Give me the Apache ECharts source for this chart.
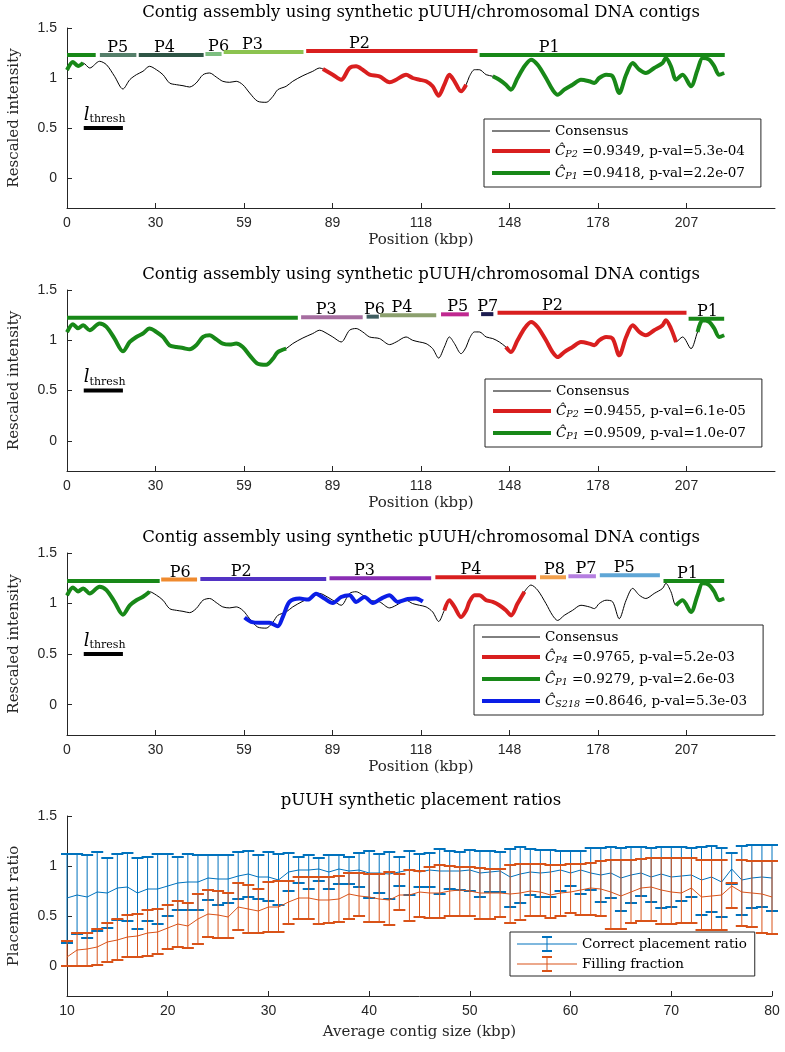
<!DOCTYPE html>
<html>
<head>
<meta charset="utf-8">
<script src="https://cdn.jsdelivr.net/npm/echarts@6.0.0/dist/echarts.min.js"></script>
<style>
  html, body { margin: 0; padding: 0; background: #fff; }
  #chart { width: 785px; height: 1052px; }
</style>
</head>
<body>
<div id="chart"></div>
<script>
// ---- data ----
// consensus profile [kbp, rescaled intensity], shared by the three assembly panels
const consensus = [
  [0, 1.08], [2.0, 1.16], [3.7, 1.12], [5.4, 1.15], [7.6, 1.10], [10.9, 1.167], [13.2, 1.133],
  [15.9, 1.017], [18.7, 0.89], [21, 0.983], [23.2, 1.033], [25.4, 1.067], [27.6, 1.117],
  [29.9, 1.083], [32.1, 1.033], [34.3, 0.95], [36.6, 0.933], [38.8, 0.923], [41, 0.91],
  [43.2, 0.95], [45.5, 1.033], [47.7, 1.05], [49.9, 1.01], [52.1, 0.967], [54.4, 0.957],
  [56.6, 0.967], [58.8, 0.933], [61.1, 0.85], [63.8, 0.767], [66.6, 0.757], [68.9, 0.817],
  [70.5, 0.883], [73.3, 0.917], [75.5, 0.967], [78.9, 1.023], [82.2, 1.067], [84.5, 1.1],
  [85.6, 1.09], [88.9, 1.033], [91.7, 0.983], [94.5, 1.1], [96.7, 1.117], [98.9, 1.083],
  [101.2, 1.033], [104.5, 1.017], [107.9, 0.957], [110.1, 0.983], [113.4, 1.033], [115.6, 1.0],
  [117.9, 0.983], [120.1, 0.967], [122.3, 0.917], [124.3, 0.823], [126.2, 0.933], [127.9, 1.033],
  [129.6, 0.967], [131.8, 0.867], [133.5, 0.933], [134.6, 1.017], [136.3, 1.083], [137.9, 1.083],
  [140.2, 1.033], [142.4, 1.017], [144.6, 0.983], [146.8, 0.933], [148.5, 0.883], [150.7, 1.0],
  [153, 1.117], [155.2, 1.183], [157.4, 1.133], [160.2, 1.0], [162.4, 0.883], [164.1, 0.833],
  [166.3, 0.883], [169.1, 0.933], [171.9, 0.983], [174.7, 0.967], [176.4, 0.95], [178, 1.0],
  [180.3, 1.033], [182.5, 1.017], [184.7, 0.85], [187, 1.033], [189.2, 1.15], [191.4, 1.083],
  [193.6, 1.05], [196.4, 1.1], [199.2, 1.15], [200.3, 1.2], [202, 1.117], [203.7, 0.983],
  [205.9, 1.033], [208.7, 0.917], [210.9, 1.083], [212.6, 1.2], [214.8, 1.183], [216.5, 1.117],
  [218.1, 1.033], [219.8, 1.05]
];

// kbp ranges where each fitted contig overlays the consensus
const p1RedRanges = [[85.6, 133.5]];
const p1GreenRanges = [[0, 5.4], [142.4, 219.8]];
const p2RedRanges = [[146.8, 203.7]];
const p2GreenRanges = [[0, 73.3], [210.9, 219.8]];
const p3RedRanges = [[126.2, 153]];
const p3GreenRanges = [[0, 27.6], [203.7, 219.8]];
// S218 fit in panel 3
const p3Blue = [
  [59.4, 0.862], [61.6, 0.819], [64.4, 0.809], [67.7, 0.809], [70.5, 0.776], [72.2, 0.869],
  [74.4, 1.016], [77.8, 1.049], [80.6, 1.039], [83.3, 1.098], [86.1, 1.049], [88.9, 1.006],
  [91.7, 1.065], [94.5, 1.082], [96.7, 1.016], [99.5, 1.065], [102.3, 1.006], [105.1, 1.049],
  [107.8, 1.082], [110.6, 1.016], [114.0, 1.045], [116.7, 1.05], [119.0, 1.02]
];

// contig placement bars: [start kbp, end kbp, height, label kbp]
const p1Segs = [[0, 9.6, 1.23, null], [11, 23.2, 1.23, 17], [24, 45.7, 1.23, 32.6], [46.3, 51.7, 1.24, 50.7],
  [52.4, 79.1, 1.26, 62], [80, 137.3, 1.27, 97.8], [138, 220, 1.23, 161.3]];
const p1SegLabels = ['', 'P5', 'P4', 'P6', 'P3', 'P2', 'P1'];
const p2Segs = [[0, 77.2, 1.225, null], [78.3, 98.9, 1.23, 86.7], [100.2, 104.3, 1.235, 102.8],
  [104.7, 123.5, 1.25, 112], [125.1, 134.4, 1.258, 130.7], [138.5, 142.6, 1.26, 140.7],
  [144.0, 207.2, 1.275, 162.4], [207.9, 219.8, 1.215, 214.2]];
const p2SegLabels = ['', 'P3', 'P6', 'P4', 'P5', 'P7', 'P2', 'P1'];
const p3Segs = [[0, 31, 1.223, null], [31.5, 43.5, 1.237, 37.9], [44.6, 86.7, 1.243, 58.3],
  [87.8, 121.8, 1.25, 99.5], [123.2, 156.9, 1.26, 135.1], [158.2, 166.9, 1.26, 163],
  [167.7, 176.9, 1.27, 173.6], [178.2, 198.3, 1.28, 186.4], [199.5, 219.8, 1.223, 207.5]];
const p3SegLabels = ['', 'P6', 'P2', 'P3', 'P4', 'P8', 'P7', 'P5', 'P1'];
const threshBar = [[5.6, 18.7, 0.5, 5.6]];

const xTickVals = [0, 29.6, 59.2, 88.8, 118.4, 148, 177.6, 207.2];
const xTickLabels = ['0', '30', '59', '89', '118', '148', '178', '207'];
const yTickVals = [0, 0.5, 1, 1.5];

// placement ratio panel
const contigSize = [10, 11, 12, 13, 14, 15, 16, 17, 18, 19, 20, 21, 22, 23, 24, 25, 26, 27, 28, 29, 30,
  31, 32, 33, 34, 35, 36, 37, 38, 39, 40, 41, 42, 43, 44, 45, 46, 47, 48, 49, 50, 51, 52, 53, 54, 55,
  56, 57, 58, 59, 60, 61, 62, 63, 64, 65, 66, 67, 68, 69, 70, 71, 72, 73, 74, 75, 76, 77, 78, 79, 80];
const cprMean = [0.68, 0.71, 0.69, 0.74, 0.73, 0.78, 0.79, 0.73, 0.77, 0.77, 0.80, 0.83, 0.84, 0.84, 0.88,
  0.87, 0.87, 0.90, 0.92, 0.89, 0.89, 0.86, 0.94, 0.96, 0.96, 0.97, 0.94, 0.97, 0.95, 0.96, 0.93, 0.93,
  0.92, 0.94, 0.96, 0.94, 0.96, 0.95, 0.95, 0.95, 0.96, 0.93, 0.94, 0.95, 0.89, 0.92, 0.94, 0.93, 0.94,
  0.96, 0.93, 0.96, 0.93, 0.91, 0.93, 0.88, 0.91, 0.93, 0.89, 0.92, 0.89, 0.90, 0.91, 0.86, 0.89, 0.84,
  0.97, 0.86, 0.88, 0.89, 0.88];
const cprHigh = [1.12, 1.12, 1.11, 1.14, 1.08, 1.12, 1.13, 1.08, 1.09, 1.12, 1.12, 1.09, 1.12, 1.11, 1.11,
  1.11, 1.11, 1.14, 1.15, 1.11, 1.14, 1.12, 1.13, 1.09, 1.11, 1.08, 1.11, 1.11, 1.09, 1.13, 1.15, 1.12,
  1.14, 1.09, 1.15, 1.12, 1.13, 1.17, 1.15, 1.14, 1.16, 1.15, 1.15, 1.14, 1.17, 1.19, 1.17, 1.16, 1.16,
  1.15, 1.15, 1.15, 1.18, 1.18, 1.19, 1.18, 1.19, 1.19, 1.18, 1.19, 1.19, 1.19, 1.18, 1.19, 1.20, 1.18,
  1.13, 1.20, 1.21, 1.21, 1.21];
const cprLow = [0.23, 0.32, 0.28, 0.35, 0.38, 0.46, 0.45, 0.37, 0.45, 0.42, 0.50, 0.56, 0.56, 0.56, 0.66,
  0.61, 0.63, 0.67, 0.69, 0.67, 0.65, 0.61, 0.75, 0.83, 0.77, 0.85, 0.77, 0.82, 0.82, 0.79, 0.68, 0.73,
  0.67, 0.80, 0.71, 0.79, 0.79, 0.72, 0.77, 0.76, 0.75, 0.69, 0.74, 0.74, 0.59, 0.63, 0.71, 0.69, 0.69,
  0.75, 0.80, 0.72, 0.76, 0.64, 0.68, 0.55, 0.63, 0.70, 0.64, 0.58, 0.59, 0.65, 0.69, 0.51, 0.54, 0.49,
  0.82, 0.51, 0.58, 0.59, 0.55];
const ffMean = [0.09, 0.16, 0.17, 0.19, 0.24, 0.26, 0.29, 0.30, 0.33, 0.34, 0.38, 0.42, 0.40, 0.47, 0.52,
  0.51, 0.49, 0.59, 0.57, 0.55, 0.59, 0.59, 0.64, 0.68, 0.68, 0.66, 0.66, 0.67, 0.72, 0.70, 0.69, 0.67,
  0.66, 0.71, 0.71, 0.74, 0.73, 0.73, 0.75, 0.76, 0.75, 0.73, 0.73, 0.73, 0.72, 0.73, 0.75, 0.74, 0.71,
  0.73, 0.74, 0.76, 0.78, 0.77, 0.74, 0.70, 0.74, 0.78, 0.79, 0.76, 0.74, 0.73, 0.78, 0.69, 0.70, 0.71,
  0.80, 0.74, 0.73, 0.72, 0.69];
const ffHigh = [0.25, 0.33, 0.33, 0.37, 0.43, 0.47, 0.51, 0.52, 0.56, 0.57, 0.61, 0.65, 0.63, 0.72, 0.76,
  0.75, 0.73, 0.83, 0.81, 0.77, 0.84, 0.85, 0.85, 0.89, 0.89, 0.89, 0.89, 0.90, 0.93, 0.93, 0.92, 0.92,
  0.94, 0.92, 0.96, 0.95, 0.99, 1.01, 1.00, 0.99, 0.99, 0.98, 0.97, 0.97, 1.01, 1.02, 1.02, 1.02, 1.01,
  1.01, 1.02, 1.02, 1.03, 1.05, 1.06, 1.06, 1.06, 1.07, 1.08, 1.08, 1.08, 1.08, 1.08, 1.06, 1.06, 1.06,
  0.83, 1.06, 1.05, 1.05, 1.05];
const ffLow = [0.00, 0.00, 0.00, 0.01, 0.04, 0.06, 0.09, 0.09, 0.10, 0.12, 0.17, 0.19, 0.18, 0.22, 0.29,
  0.28, 0.28, 0.36, 0.33, 0.33, 0.34, 0.34, 0.42, 0.47, 0.47, 0.42, 0.43, 0.44, 0.47, 0.50, 0.44, 0.44,
  0.41, 0.56, 0.45, 0.49, 0.48, 0.48, 0.50, 0.50, 0.50, 0.47, 0.47, 0.49, 0.43, 0.46, 0.50, 0.50, 0.48,
  0.50, 0.53, 0.51, 0.51, 0.50, 0.37, 0.37, 0.43, 0.45, 0.45, 0.42, 0.42, 0.43, 0.43, 0.36, 0.36, 0.36,
  0.58, 0.40, 0.39, 0.33, 0.32];

// ---- styling ----
const SERIF = '"DejaVu Serif", "Liberation Serif", serif';
const SANS = '"Liberation Sans", Arial, sans-serif';
const AX = '#262626';
const RED = '#d91f1f', GREEN = '#188818', BLUE = '#0b1ee6';
const MBLUE = '#0072BD', MORANGE = '#D95319';
const p1SegColors = [GREEN, '#557f6a', '#2e5545', '#7dbf80', '#8cc350', RED, GREEN];
const p2SegColors = [GREEN, '#a66da0', '#3f5d60', '#8ca06e', '#c02890', '#1c1c50', RED, GREEN];
const p3SegColors = [GREEN, '#ef8a2e', '#5233c4', '#8a2db4', RED, '#f2a04c', '#b57ee0', '#5fa6d6', GREEN];

const grids = [
  { left: 67, top: 28, width: 708, height: 180 },
  { left: 67, top: 290, width: 708, height: 181 },
  { left: 67, top: 553, width: 708, height: 182 },
  { left: 67, top: 816, width: 705, height: 180 }
];
const titles = [
  'Contig assembly using synthetic pUUH/chromosomal DNA contigs',
  'Contig assembly using synthetic pUUH/chromosomal DNA contigs',
  'Contig assembly using synthetic pUUH/chromosomal DNA contigs',
  'pUUH synthetic placement ratios'
];

const legendText = {
  'Consensus': 'Consensus',
  'p1Red': '{c|\u0108}{s|P2} =0.9349, p-val=5.3e-04',
  'p1Green': '{c|\u0108}{s|P1} =0.9418, p-val=2.2e-07',
  'p2Red': '{c|\u0108}{s|P2} =0.9455, p-val=6.1e-05',
  'p2Green': '{c|\u0108}{s|P1} =0.9509, p-val=1.0e-07',
  'p3Red': '{c|\u0108}{s|P4} =0.9765, p-val=5.2e-03',
  'p3Green': '{c|\u0108}{s|P1} =0.9279, p-val=2.6e-03',
  'p3Blue': '{c|\u0108}{s|S218} =0.8646, p-val=5.3e-03',
  'Correct placement ratio': 'Correct placement ratio',
  'Filling fraction': 'Filling fraction'
};

// pick the consensus points that fall inside the given ranges, with a gap between ranges
function pick(ranges) {
  const out = [];
  ranges.forEach((r, i) => {
    if (i > 0) out.push([r[0], '-']);
    consensus.forEach(p => { if (p[0] >= r[0] && p[0] <= r[1]) out.push(p); });
  });
  return out;
}

function lineSeries(idx, name, data, color, width, z, smooth) {
  return {
    type: 'line', name, xAxisIndex: idx, yAxisIndex: idx, data,
    symbol: 'none', showSymbol: false, smooth: smooth || false, z, silent: true,
    lineStyle: { color, width, cap: 'butt', join: 'round' },
    itemStyle: { color }
  };
}

function segmentSeries(idx, segs, labels, colors) {
  return {
    type: 'custom', xAxisIndex: idx, yAxisIndex: idx, silent: true, z: 6,
    data: segs, encode: { x: [0, 1], y: 2 },
    renderItem(params, api) {
      const i = params.dataIndex;
      const a = api.coord([api.value(0), api.value(2)]);
      const b = api.coord([api.value(1), api.value(2)]);
      const kids = [{
        type: 'line', shape: { x1: a[0], y1: a[1], x2: b[0], y2: b[1] },
        style: { stroke: colors[i], lineWidth: 4, lineCap: 'butt' }
      }];
      if (labels[i]) {
        const c = api.coord([api.value(3), api.value(2)]);
        kids.push({
          type: 'text', x: c[0], y: a[1] + 1,
          style: { text: labels[i], fill: '#000', font: '16px ' + SERIF, align: 'center', verticalAlign: 'bottom' }
        });
      }
      return { type: 'group', children: kids };
    }
  };
}

function threshSeries(idx) {
  return {
    type: 'custom', xAxisIndex: idx, yAxisIndex: idx, silent: true, z: 6,
    data: threshBar, encode: { x: [0, 1], y: 2 },
    renderItem(params, api) {
      const a = api.coord([api.value(0), api.value(2)]);
      const b = api.coord([api.value(1), api.value(2)]);
      return {
        type: 'group', children: [
          { type: 'line', shape: { x1: a[0], y1: a[1], x2: b[0], y2: b[1] }, style: { stroke: '#000', lineWidth: 4 } },
          {
            type: 'text', x: a[0], y: a[1] - 3,
            style: {
              text: '{l|l}{t|thresh}', align: 'left', verticalAlign: 'bottom', fill: '#000',
              rich: {
                l: { fontFamily: SERIF, fontSize: 18, fontStyle: 'italic', fill: '#000' },
                t: { fontFamily: SERIF, fontSize: 11, fill: '#000', padding: [9, 0, 0, 0] }
              }
            }
          }
        ]
      };
    }
  };
}

function errorSeries(name, lows, highs, color, z) {
  return {
    type: 'custom', name, xAxisIndex: 3, yAxisIndex: 3, silent: true, z,
    data: contigSize.map((x, i) => [x, lows[i], highs[i]]),
    encode: { x: 0, y: [1, 2] },
    renderItem(params, api) {
      const lo = api.coord([api.value(0), api.value(1)]);
      const hi = api.coord([api.value(0), api.value(2)]);
      const w = 6;
      return {
        type: 'group', children: [
          { type: 'line', shape: { x1: lo[0], y1: lo[1], x2: hi[0], y2: hi[1] }, style: { stroke: color, lineWidth: 1 } },
          { type: 'line', shape: { x1: lo[0] - w, y1: lo[1], x2: lo[0] + w, y2: lo[1] }, style: { stroke: color, lineWidth: 2 } },
          { type: 'line', shape: { x1: hi[0] - w, y1: hi[1], x2: hi[0] + w, y2: hi[1] }, style: { stroke: color, lineWidth: 2 } }
        ]
      };
    }
  };
}

const axisFont = { fontFamily: SANS, fontSize: 14, color: AX };
const nameFont = { fontFamily: SERIF, fontSize: 15, color: AX };

const xAxes = [0, 1, 2].map(i => ({
  gridIndex: i, type: 'value', min: 0, max: 236.8,
  name: 'Position (kbp)', nameLocation: 'middle', nameGap: 25, nameTextStyle: nameFont,
  axisLine: { show: true, onZero: false, lineStyle: { color: AX, width: 1 } },
  axisTick: { show: true, inside: true, length: 5, customValues: xTickVals, lineStyle: { color: AX } },
  axisLabel: {
    ...axisFont, margin: 8, customValues: xTickVals,
    formatter: v => {
      let k = 0;
      xTickVals.forEach((t, j) => { if (Math.abs(t - v) < Math.abs(xTickVals[k] - v)) k = j; });
      return xTickLabels[k];
    }
  },
  splitLine: { show: false }
}));
xAxes.push({
  gridIndex: 3, type: 'value', min: 10, max: 80, interval: 10,
  name: 'Average contig size (kbp)', nameLocation: 'middle', nameGap: 29, nameTextStyle: nameFont,
  axisLine: { show: true, onZero: false, lineStyle: { color: AX, width: 1 } },
  axisTick: { show: true, inside: true, length: 5, lineStyle: { color: AX } },
  axisLabel: { ...axisFont, margin: 8 },
  splitLine: { show: false }
});

const yAxes = [0, 1, 2, 3].map(i => ({
  gridIndex: i, type: 'value', min: -0.3, max: 1.5,
  name: i < 3 ? 'Rescaled intensity' : 'Placement ratio',
  nameLocation: 'middle', nameGap: 45, nameTextStyle: nameFont,
  axisLine: { show: true, onZero: false, lineStyle: { color: AX, width: 1 } },
  axisTick: { show: true, inside: true, length: 5, customValues: yTickVals, lineStyle: { color: AX } },
  axisLabel: { ...axisFont, margin: 10, customValues: yTickVals },
  splitLine: { show: false }
}));

const legendRich = {
  c: { fontFamily: SERIF, fontSize: 13.5, fontStyle: 'italic', color: '#000' },
  s: { fontFamily: SERIF, fontSize: 9.5, fontStyle: 'italic', color: '#000', padding: [8, 0, 0, 0] }
};
function legendBox(left, top, data, extra) {
  return Object.assign({
    orient: 'vertical', left, top, data,
    backgroundColor: '#fff', borderColor: AX, borderWidth: 1,
    padding: [5, 16, 5, 6], itemGap: 6, itemWidth: 58, itemHeight: 14,
    selectedMode: false,
    itemStyle: { opacity: 0 },
    lineStyle: { width: 'inherit' },
    textStyle: { fontFamily: SERIF, fontSize: 13.5, color: '#000', rich: legendRich },
    formatter: n => legendText[n]
  }, extra || {});
}
const ebIcon = 'path://M0,7.5H60V8.5H0Z M29.5,1H30.5V15H29.5Z M25,0H35V2H25Z M25,14H35V16H25Z';

const series = [];
// panel 1
series.push(lineSeries(0, 'Consensus', consensus, '#000', 1, 2, 0.3));
series.push(lineSeries(0, 'p1Red', pick(p1RedRanges), RED, 4, 3, 0.3));
series.push(lineSeries(0, 'p1Green', pick(p1GreenRanges), GREEN, 4, 3, 0.3));
series.push(segmentSeries(0, p1Segs, p1SegLabels, p1SegColors));
series.push(threshSeries(0));
// panel 2
series.push(lineSeries(1, 'Consensus', consensus, '#000', 1, 2, 0.3));
series.push(lineSeries(1, 'p2Red', pick(p2RedRanges), RED, 4, 3, 0.3));
series.push(lineSeries(1, 'p2Green', pick(p2GreenRanges), GREEN, 4, 3, 0.3));
series.push(segmentSeries(1, p2Segs, p2SegLabels, p2SegColors));
series.push(threshSeries(1));
// panel 3
series.push(lineSeries(2, 'Consensus', consensus, '#000', 1, 2, 0.3));
series.push(lineSeries(2, 'p3Red', pick(p3RedRanges), RED, 4, 3, 0.3));
series.push(lineSeries(2, 'p3Green', pick(p3GreenRanges), GREEN, 4, 3, 0.3));
series.push(lineSeries(2, 'p3Blue', p3Blue, BLUE, 4, 3, 0.3));
series.push(segmentSeries(2, p3Segs, p3SegLabels, p3SegColors));
series.push(threshSeries(2));
// panel 4
series.push(lineSeries(3, 'Correct placement ratio', contigSize.map((x, i) => [x, cprMean[i]]), MBLUE, 1, 3));
series.push(lineSeries(3, 'Filling fraction', contigSize.map((x, i) => [x, ffMean[i]]), MORANGE, 1, 5));
series.push(errorSeries('cprErr', cprLow, cprHigh, MBLUE, 3));
series.push(errorSeries('ffErr', ffLow, ffHigh, MORANGE, 5));

const chart = echarts.init(document.getElementById('chart'));
chart.setOption({
  animation: false,
  backgroundColor: '#fff',
  grid: grids.map(g => Object.assign({ outerBoundsMode: 'none' }, g)),
  xAxis: xAxes,
  yAxis: yAxes,
  graphic: titles.map((t, i) => ({
    type: 'text', x: 421, y: grids[i].top - 15, silent: true,
    style: { text: t, font: '16.5px ' + SERIF, fill: '#000', align: 'center', verticalAlign: 'middle' }
  })),
  legend: [
    legendBox(484, 119, ['Consensus', 'p1Red', 'p1Green']),
    legendBox(485, 379, ['Consensus', 'p2Red', 'p2Green']),
    legendBox(474, 625, ['Consensus', 'p3Red', 'p3Green', 'p3Blue']),
    legendBox(510, 932, [
      { name: 'Correct placement ratio', icon: ebIcon },
      { name: 'Filling fraction', icon: ebIcon }
    ], { itemWidth: 60, itemHeight: 16, itemGap: 4, itemStyle: {}, padding: [4, 8, 4, 7] })
  ],
  series
});
</script>
</body>
</html>
